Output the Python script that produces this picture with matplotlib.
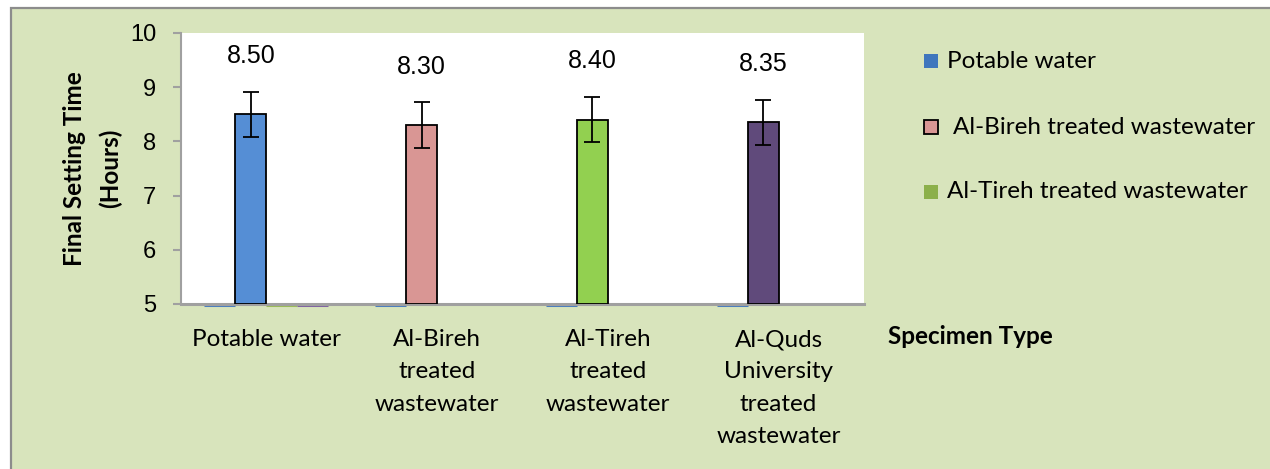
import matplotlib
matplotlib.use("Agg")
import matplotlib.pyplot as plt
from matplotlib.patches import Rectangle
import numpy as np

categories = ["Potable water", "Al-Bireh\ntreated\nwastewater",
              "Al-Tireh\ntreated\nwastewater", "Al-Quds\nUniversity\ntreated\nwastewater"]
values = [8.50, 8.30, 8.40, 8.35]
errors = [0.42, 0.42, 0.42, 0.42]
value_labels = ["8.50", "8.30", "8.40", "8.35"]
bar_colors = ["#558ed5", "#d99694", "#92d050", "#604a7b"]
legend_labels = ["Potable water", "Al-Bireh treated wastewater", "Al-Tireh treated wastewater"]
# zero-valued series slots visible as thin lines at the axis floor: (category, slot, colour)
zero_slots = [(0, 0, "#4a7ebf"), (1, 0, "#4a7ebf"), (2, 0, "#4a7ebf"), (3, 0, "#4a7ebf"),
              (0, 2, "#9bbb59"), (0, 3, "#8064a2")]
y_ticks = [5, 6, 7, 8, 9, 10]

BG = "#d8e4bc"
FS = 17.5
fig = plt.figure(figsize=(12.7, 4.69), dpi=100)
fig.patch.set_facecolor("white")
W, H = 1270, 469
fig.patches.append(Rectangle((11 / W, -0.1), 1.2, (H - 8) / H + 0.1, transform=fig.transFigure,
                             facecolor=BG, edgecolor="#8c8c8c", linewidth=1.6, zorder=0))

ax = fig.add_axes([181 / W, (H - 304) / H, (864 - 181) / W, (304 - 33) / H])
ax.set_zorder(2)
ax.set_facecolor("white")
ax.set_ylim(5, 10)
ax.set_xlim(-0.5, len(categories) - 0.5)

slot_w = 0.1816
x = np.arange(len(categories))
bar_x = x + (1 - 1.5) * slot_w
ax.bar(bar_x, np.array(values) - 5, bottom=5, width=slot_w, color=bar_colors,
       edgecolor="black", linewidth=1.3, zorder=3)
ax.errorbar(bar_x, values, yerr=errors, fmt="none", ecolor="black", elinewidth=1.3,
            capsize=6, capthick=1.3, zorder=4)
for xi, v, lab in zip(bar_x, values, value_labels):
    ax.annotate(lab, (xi, v), xytext=(0, 42), textcoords="offset points",
                ha="center", va="center", fontsize=18, family="Liberation Sans")

for ci, si, col in zero_slots:
    xc = ci + (si - 1.5) * slot_w
    ax.plot([xc - slot_w / 2, xc + slot_w / 2], [4.985, 4.985], color=col, lw=2.2,
            solid_capstyle="butt", clip_on=False, zorder=2)

for s in ["top", "right"]:
    ax.spines[s].set_visible(False)
ax.spines["left"].set_color("#a0a0a0")
ax.spines["left"].set_linewidth(1.5)
ax.spines["bottom"].set_color("#a0a0a0")
ax.spines["bottom"].set_linewidth(2.2)
ax.set_yticks(y_ticks)
ax.tick_params(axis="y", length=6, width=1.5, color="#a0a0a0", pad=12,
               labelsize=17)
for t in ax.get_yticklabels():
    t.set_family("Liberation Sans")
ax.set_xticks(x)
ax.set_xticklabels(categories, fontsize=FS, family="Lato", linespacing=1.67)
ax.tick_params(axis="x", length=0, pad=18)

fig.text(93 / W, 0.5 * ((H - 304) / H + (H - 33) / H), "Final Setting Time\n(Hours)",
         rotation=90, ha="center", va="center", multialignment="center",
         fontsize=FS, fontweight="bold", family="Lato", linespacing=1.65)
fig.text(888 / W, (H - 336) / H, "Specimen Type", ha="left", va="center",
         fontsize=FS, fontweight="bold", family="Lato")

leg_y = [61, 127, 192]
leg_face = ["#3f76bd", "#d99694", "#8cb04a"]
leg_edge = ["none", "black", "none"]
for yy, lab, fc, ec in zip(leg_y, legend_labels, leg_face, leg_edge):
    fig.patches.append(Rectangle((924 / W, (H - yy - 7) / H), 14 / W, 14 / H,
                                 transform=fig.transFigure, facecolor=fc,
                                 edgecolor=ec, linewidth=1.3, zorder=2))
    fig.text((947 if ec == "none" else 953) / W, (H - yy) / H, lab, ha="left", va="center",
             fontsize=FS, family="Lato")

fig.savefig("out.png", dpi=100)
